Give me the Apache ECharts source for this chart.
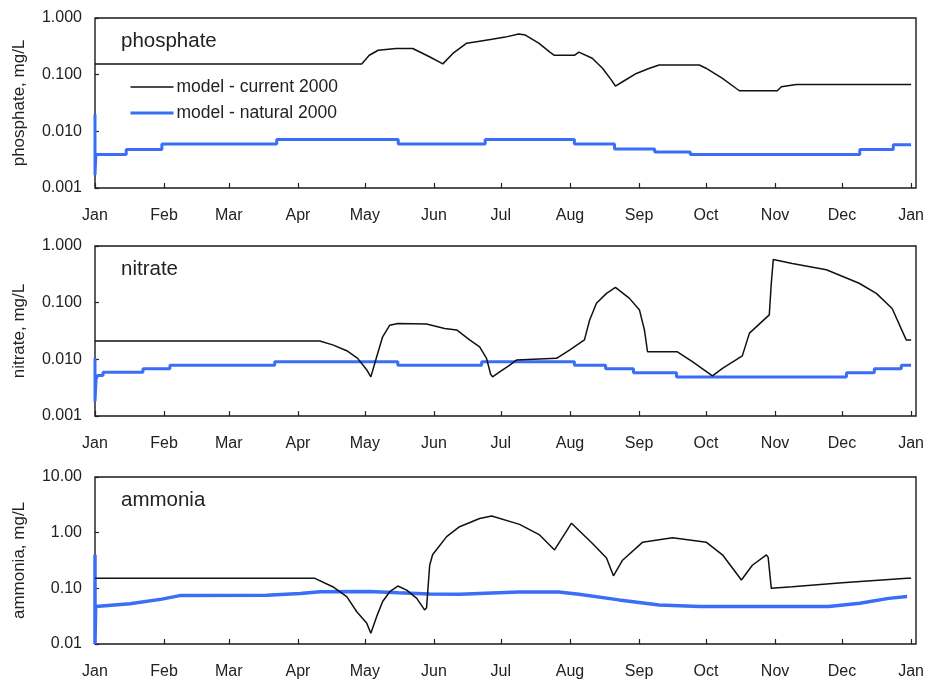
<!DOCTYPE html>
<html>
<head>
<meta charset="utf-8">
<script src="https://cdn.jsdelivr.net/npm/echarts@6/dist/echarts.min.js"></script>
<style>
  html, body { margin: 0; padding: 0; background: #fff; }
  #chart { width: 927px; height: 682px; }
</style>
</head>
<body>
<div id="chart"></div>
<script>
// Month starts (day of year 2000, leap year) and their labels
const monthDays = [0, 31, 60, 91, 121, 152, 182, 213, 244, 274, 305, 335, 366];
const monthLabels = ['Jan', 'Feb', 'Mar', 'Apr', 'May', 'Jun', 'Jul', 'Aug', 'Sep', 'Oct', 'Nov', 'Dec', 'Jan'];

const seriesNames = ['model - current 2000', 'model - natural 2000'];
const panelTitles = ['phosphate', 'nitrate', 'ammonia'];
const axisNames = ['phosphate, mg/L', 'nitrate, mg/L', 'ammonia, mg/L'];

// Phosphate
const phosCurDays = [0, 119.6, 123, 127, 135, 142.5, 150, 156, 160.5, 166.7, 172.5, 178, 184, 190, 193, 199, 204, 206, 215, 217, 223, 227.6, 231.6, 233.4, 236.6, 242.8, 248.7, 253, 271, 274, 281.4, 287.6, 289, 306, 307.8, 314.5, 366];
const phosCurVals = [0.155, 0.155, 0.22, 0.27, 0.29, 0.29, 0.207, 0.155, 0.237, 0.36, 0.39, 0.42, 0.46, 0.52, 0.50, 0.36, 0.25, 0.22, 0.22, 0.25, 0.195, 0.13, 0.08, 0.063, 0.075, 0.105, 0.13, 0.148, 0.148, 0.13, 0.086, 0.057, 0.052, 0.052, 0.061, 0.067, 0.067];
const phosNatDays = [0, 0, 0.4, 14, 30, 81.5, 136, 175, 215, 233, 251, 267, 343, 358, 366];
const phosNatVals = [0.02, 0.0017, 0.0039, 0.0048, 0.006, 0.0072, 0.006, 0.0072, 0.006, 0.0049, 0.0043, 0.0039, 0.0048, 0.0058, 0.0058];

// Nitrate
const nitCurDays = [0, 100.8, 106.6, 112.9, 117.8, 121.9, 123.7, 126.3, 129, 132.2, 135.8, 148.7, 156.8, 162.2, 168, 172.5, 175.6, 177.4, 178.3, 181.5, 186, 189, 207, 212.8, 219.5, 221.8, 224.9, 229.4, 233.4, 239.7, 244.2, 246.4, 247.8, 261.2, 267.9, 276.9, 281.4, 290.3, 293.5, 302.4, 303.3, 304.2, 312.7, 328, 342.7, 350.4, 357.5, 363.8, 366];
const nitCurVals = [0.021, 0.021, 0.018, 0.0142, 0.0104, 0.0065, 0.0049, 0.011, 0.025, 0.040, 0.043, 0.042, 0.035, 0.033, 0.022, 0.0166, 0.0104, 0.0055, 0.0049, 0.006, 0.0079, 0.0097, 0.0104, 0.0146, 0.022, 0.049, 0.098, 0.146, 0.186, 0.119, 0.074, 0.033, 0.0136, 0.0136, 0.0091, 0.0051, 0.0069, 0.0115, 0.029, 0.061, 0.22, 0.58, 0.49, 0.38, 0.22, 0.146, 0.079, 0.022, 0.022];
const nitNatDays = [0, 0, 0.5, 1.2, 3.6, 21.5, 33.6, 80.6, 135.8, 173.4, 215, 229, 241.5, 260.8, 337, 349.5, 361.6, 366];
const nitNatVals = [0.0105, 0.0018, 0.0045, 0.0052, 0.0059, 0.0068, 0.0079, 0.0091, 0.0079, 0.0091, 0.0079, 0.0068, 0.0058, 0.0049, 0.0058, 0.0068, 0.0079, 0.0079];

// Ammonia
const ammCurDays = [0, 98.6, 106.6, 112.9, 117.4, 121.9, 123.7, 126.3, 129, 132.2, 135.8, 139.8, 144.3, 147.8, 148.7, 150.1, 151.4, 157.7, 163.5, 172.5, 177.9, 190.4, 199.4, 206.1, 213.7, 223.1, 229.4, 232.5, 236.6, 245.5, 259, 274.2, 281.4, 289.9, 294.8, 301.1, 301.9, 303.3, 312.7, 335.1, 364.2, 366];
const ammCurVals = [0.151, 0.151, 0.107, 0.071, 0.038, 0.0235, 0.0156, 0.031, 0.058, 0.087, 0.11, 0.093, 0.066, 0.041, 0.045, 0.26, 0.40, 0.85, 1.28, 1.8, 2.0, 1.41, 0.91, 0.49, 1.48, 0.64, 0.35, 0.168, 0.32, 0.67, 0.81, 0.67, 0.40, 0.141, 0.26, 0.40, 0.36, 0.10, 0.107, 0.126, 0.151, 0.151];
const ammNatDays = [0, 0, 0.3, 15.7, 30, 38, 77, 92, 101, 123, 136, 150, 163.5, 190, 208, 217, 235, 253, 271, 329, 343, 356, 364.2];
const ammNatVals = [0.4, 0.01, 0.047, 0.053, 0.064, 0.074, 0.075, 0.081, 0.087, 0.088, 0.083, 0.079, 0.078, 0.086, 0.086, 0.078, 0.062, 0.050, 0.047, 0.047, 0.054, 0.066, 0.071];

const pairs = (xs, ys) => xs.map((x, i) => [x, ys[i]]);

const panels = [
  { top: 18, height: 170, min: 0.001, max: 1, digits: 3, natWidth: 3,
    cur: pairs(phosCurDays, phosCurVals), nat: pairs(phosNatDays, phosNatVals), natStep: 'end' },
  { top: 246, height: 170, min: 0.001, max: 1, digits: 3, natWidth: 3,
    cur: pairs(nitCurDays, nitCurVals), nat: pairs(nitNatDays, nitNatVals), natStep: 'end' },
  { top: 477, height: 167, min: 0.01, max: 10, digits: 2, natWidth: 3.5,
    cur: pairs(ammCurDays, ammCurVals), nat: pairs(ammNatDays, ammNatVals), natStep: false }
];

const textColor = '#222';
const blue = '#3b6ef7';
const fontFamily = 'Liberation Sans, Arial, sans-serif';

const grid = [], xAxis = [], yAxis = [], series = [], title = [];
panels.forEach((p, i) => {
  grid.push({
    left: 95, right: 10, top: p.top, height: p.height,
    show: true, borderColor: '#1a1a1a', borderWidth: 1.4, backgroundColor: 'transparent'
  });
  xAxis.push({
    gridIndex: i, type: 'value', min: 0, max: 368.2,
    axisLine: { show: false },
    splitLine: { show: false },
    axisTick: { show: true, inside: true, length: 5, customValues: monthDays, lineStyle: { color: '#222', width: 1.2 } },
    axisLabel: {
      customValues: monthDays, margin: 20,
      color: textColor, fontSize: 16, fontFamily,
      formatter: v => monthLabels[monthDays.indexOf(Math.round(v))] || ''
    }
  });
  yAxis.push({
    gridIndex: i, type: 'log', logBase: 10, min: p.min, max: p.max,
    axisLine: { show: false },
    splitLine: { show: false },
    minorTick: { show: false },
    axisTick: { show: true, inside: true, length: 4, lineStyle: { color: '#222', width: 1.2 } },
    axisLabel: {
      margin: 13, color: textColor, fontSize: 16, fontFamily,
      formatter: v => Number(v).toFixed(p.digits)
    },
    name: axisNames[i], nameLocation: 'middle', nameGap: 67, nameRotate: 90,
    nameTextStyle: { color: textColor, fontSize: 17, fontFamily }
  });
  series.push({
    name: seriesNames[0], type: 'line', xAxisIndex: i, yAxisIndex: i,
    data: p.cur, showSymbol: false, symbol: 'none',
    lineStyle: { color: '#111', width: 1.5 }, itemStyle: { color: '#111' },
    z: 3, animation: false
  });
  series.push({
    name: seriesNames[1], type: 'line', xAxisIndex: i, yAxisIndex: i,
    data: p.nat, showSymbol: false, symbol: 'none', step: p.natStep,
    lineStyle: { color: blue, width: p.natWidth }, itemStyle: { color: blue },
    z: 2, animation: false
  });
  title.push({
    text: panelTitles[i], left: 121, top: p.top + 13, padding: 0,
    textStyle: { color: textColor, fontSize: 20.5, fontWeight: 'normal', fontFamily }
  });
});

const chart = echarts.init(document.getElementById('chart'), null, { renderer: 'canvas' });
chart.setOption({
  animation: false,
  backgroundColor: '#fff',
  title,
  grid, xAxis, yAxis, series,
  legend: {
    data: [
      { name: seriesNames[0], itemStyle: { opacity: 0 }, lineStyle: { color: '#111', width: 1.5 } },
      { name: seriesNames[1], itemStyle: { opacity: 0 }, lineStyle: { color: blue, width: 3 } }
    ],
    orient: 'vertical', left: 129, top: 78, padding: 0,
    itemWidth: 43, itemHeight: 14, itemGap: 8,
    textStyle: { color: textColor, fontSize: 17.5, fontFamily, padding: [0, 0, 0, -2] },
    selectedMode: false
  }
});
</script>
</body>
</html>
